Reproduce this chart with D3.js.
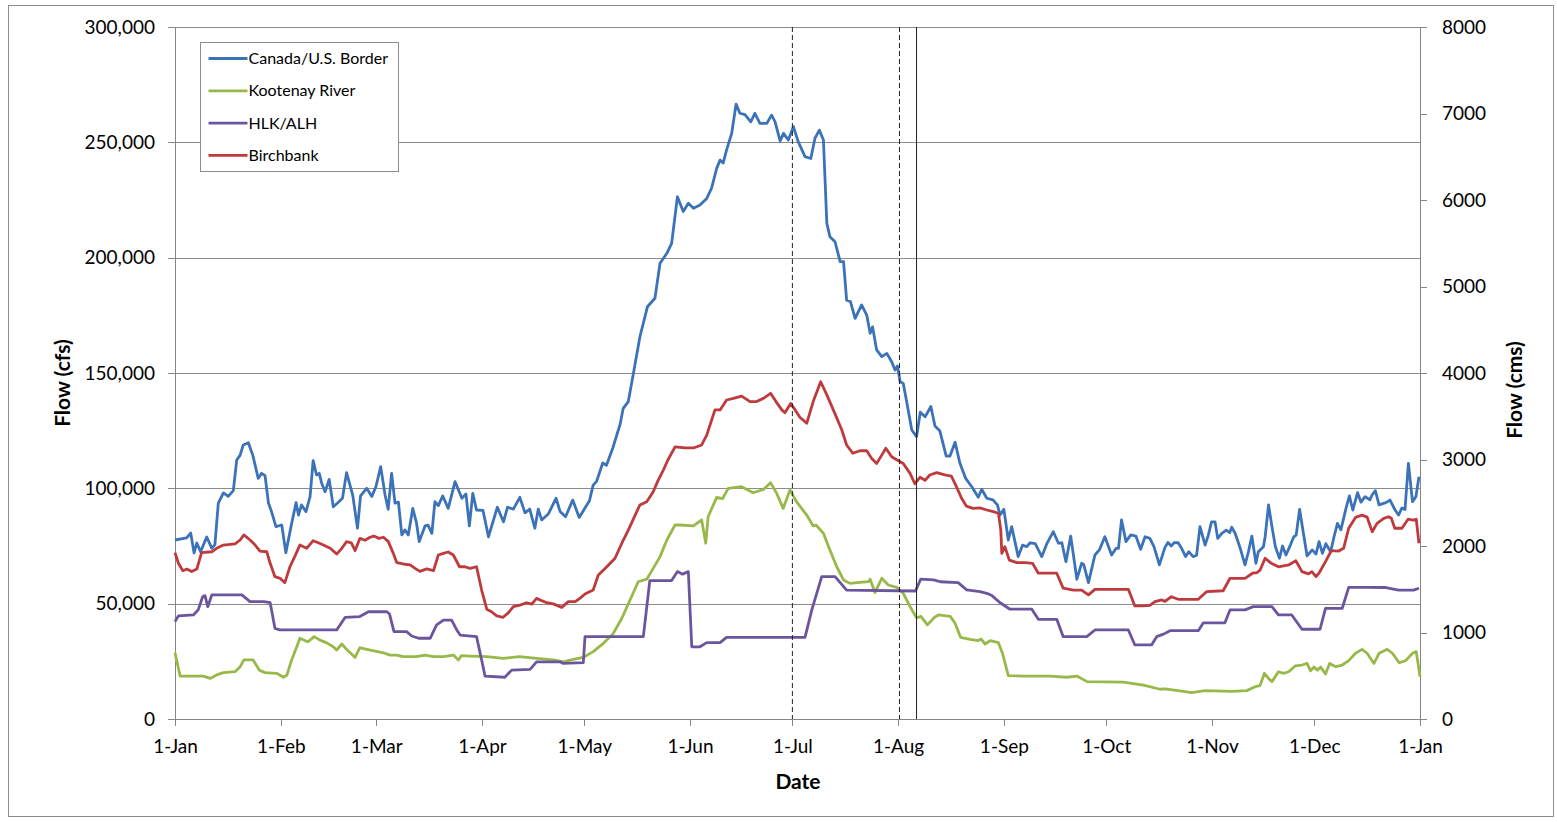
<!DOCTYPE html>
<meta charset="utf-8">
<style>

body {
  margin: 0;
  background: #fff;
  font-family: Lato, "Open Sans", sans-serif;
}

.axis path, .axis line {
  stroke: #868686;
  shape-rendering: crispEdges;
}

.axis text {
  font-family: Lato, sans-serif;
  font-size: 19px;
  fill: #000;
}

.grid line {
  stroke: #8c8c8c;
  shape-rendering: crispEdges;
}

.grid path {
  display: none;
}

.series {
  fill: none;
  stroke-width: 2.8;
  stroke-linejoin: round;
}

.title {
  font-weight: bold;
  font-size: 21px;
}

</style>
<body>
<script src="https://d3js.org/d3.v7.min.js"></script>
<script>

// daily flows, [day of year, thousand cfs]
var canada = [[0,77.6],[3.4,78.5],[4.6,80.6],[5.6,72],[6.4,76.3],[7.5,72.5],[9.3,78.9],[10.8,74],[11.7,75.6],[12.7,93.6],[14.2,98],[15.6,96.5],[17.1,99],[18.1,112.3],[19.1,114.4],[20,118.8],[21.5,119.8],[22.8,114.4],[24.4,104.3],[25.4,106.5],[26.4,105.5],[27.4,93.6],[28.3,89.9],[29.6,83.4],[31.3,84.1],[32.5,72.1],[34.2,84.8],[35.5,93.8],[36.2,88.4],[37.1,92.8],[38.4,89.9],[39.6,96.4],[40.5,112],[41.5,105.8],[42.3,106.5],[43,102.2],[44,98.5],[45.2,103.9],[46.4,92],[47.9,94],[49.1,95.7],[50.3,106.8],[52.1,97.1],[53.5,82.7],[54.4,96.7],[56.2,100],[57.7,96.5],[58.9,100.7],[60.3,109.4],[61.6,97],[62.5,90.9],[63.5,106.5],[64.5,93.6],[65.5,94],[66.5,79.8],[67.4,82],[68.4,79.8],[69.7,91.3],[70.8,85],[71.6,76.9],[73.3,83.7],[74.2,84],[75.3,80.5],[76.2,94.2],[77.2,92.5],[78.5,96.7],[80.1,91.3],[82.1,102.9],[84.1,95.7],[85.3,97.5],[86.3,83.7],[87.3,97.8],[88.4,90.6],[90.3,90.4],[91.9,79],[94.5,91.8],[96.3,85.5],[97.5,91.8],[99.2,91],[101.1,96.1],[102.6,89.4],[104,91],[105.5,82.7],[106.5,91],[107.5,86.3],[109.5,89],[111.7,95.7],[112.9,90],[114.5,87.7],[116.6,94.9],[118.5,87.4],[121.5,94.6],[122.6,101.4],[123.6,103],[125.4,111],[126.5,110],[128.4,117.7],[130.5,127.8],[131.4,134.7],[132.9,137.6],[134.4,149.9],[136.3,165.7],[138.5,178.7],[140.7,182.4],[142.2,197.6],[144.2,201.9],[145.6,206.2],[147.3,226.4],[149,220],[150.5,223.6],[152,221.4],[153.9,222.8],[155.9,225.7],[157.3,230.1],[158.8,238.7],[159.8,242.3],[160.7,241],[161.7,246.6],[163.2,253.9],[164.5,266.6],[165.6,262.6],[167.1,262],[168.8,258.9],[170,262.6],[171.5,258.2],[173.5,258.2],[174.9,261.8],[175.9,259],[177.4,250.6],[178.4,253.9],[179.8,251],[181.3,256.8],[182.7,250.3],[184.7,243.8],[186.4,243],[187.6,251.7],[188.9,255.3],[190.1,251],[191.1,214.9],[192,209.1],[193.5,206.9],[195,198.3],[196,198.3],[196.9,181.6],[198,181],[199.4,173.7],[201.3,179.5],[202.8,175.1],[203.8,167.2],[204.5,170],[205.7,160],[207.2,157.1],[208.7,158.5],[210.1,154.9],[211.1,151.3],[211.8,153],[212.6,146.2],[213.5,145.5],[214.5,137.6],[216,125.3],[217.4,122.4],[218.5,133],[219.9,131],[221.6,135.5],[222.8,127],[224.2,125],[226.1,114],[227.2,114],[228.7,120],[230.1,111],[231.8,104.3],[233.6,100.7],[235.5,96.1],[236.5,99.6],[238,95.7],[239.8,95],[241.1,92.8],[241.9,88.4],[243,90.9],[244.3,77.6],[245.3,83.4],[247.2,70.4],[248.5,75.4],[249.7,74.7],[250.7,76.4],[252.2,76],[254.1,70.4],[255.6,76],[257.5,81.2],[259,76.2],[260,76.4],[261.2,68.2],[262.6,79.3],[264.4,60.6],[265.8,67.5],[266.4,67],[267.8,59.1],[269.7,71.1],[271,73.3],[272.6,79],[274.6,71.1],[275.9,74],[276.6,74],[277.5,86.3],[278.8,76.9],[280.2,79.8],[281.7,79.3],[283.1,73.6],[284.4,79],[285.8,78.3],[287,74.7],[288.6,66.8],[290.2,74.3],[291.1,76.5],[292.1,75],[292.9,76.5],[294.1,76.4],[295.1,74],[296.3,70.4],[297.2,72.5],[298.5,70.4],[299.5,71],[300.5,83.4],[302,75.4],[302.9,79.5],[303.9,85.5],[304.9,85.5],[305.7,78.3],[306.9,80.5],[308.2,81.9],[309.2,80.8],[309.8,83.1],[310.8,80.5],[312.3,74],[313.7,66.8],[314.7,72.5],[315.7,79.3],[316.9,67.5],[317.6,72.5],[319.1,74.7],[319.6,79],[320.6,92.8],[321.6,83.4],[322.6,74.7],[323.8,69.7],[324.7,75],[325.7,71.1],[327,75.4],[328,79],[328.7,79.7],[329.7,90.9],[330.9,79.8],[331.9,70.7],[333.4,73.3],[334.5,71.5],[335.4,76.9],[336.4,71.8],[337.4,76],[338.8,72.5],[339.8,79],[340.8,84.8],[341.8,82],[343.3,91.3],[344.3,96.7],[345.3,90.6],[346.7,98.1],[347.7,94],[348.9,96.4],[350.3,95],[350.9,97],[351.9,99],[353,92.8],[355,93.8],[356.2,94.9],[357.7,90.6],[358.7,88.4],[359.7,91.5],[360.6,90.8],[361.6,110.8],[362.8,94.2],[363.8,96.4],[364.7,105]];

var kootenay = [[0,28.7],[1.5,18.6],[8.3,18.6],[10.3,17.6],[12.2,19.1],[14.2,20.1],[17.6,20.5],[19.1,22.7],[20.2,25.6],[22.9,25.6],[24.7,21.2],[26.4,20.1],[29.8,19.8],[31.8,18.1],[32.8,19],[34.2,25.6],[35.7,31.3],[36.6,35],[38.1,34],[39,33.5],[40.8,35.7],[42.5,34.2],[44.5,33],[46.4,31.3],[47.4,29.9],[48.9,32.5],[50.3,30.2],[52.8,26.7],[54.2,30.9],[56.2,30.2],[58.3,29.5],[61.1,28.7],[63,27.7],[65,27.7],[66.9,27],[70.8,27],[73.3,27.7],[75.8,27],[78.7,27],[81.6,27.7],[83.1,25.6],[84,27.5],[86.5,27.3],[91.4,27],[96.2,26.3],[101,27],[106,26.3],[110.9,25.6],[113.8,24.8],[116.8,25.9],[119.7,26.7],[122.6,29.2],[125.6,32.8],[128.5,37.1],[131,43.7],[133.4,51.6],[135.8,59.5],[138.3,60.6],[140.2,65.3],[142.2,70.4],[144.2,77.6],[146.6,84.1],[148.1,84.1],[152,83.7],[154.4,86.3],[155.6,76.2],[156.3,87.7],[158.8,96.1],[160.5,95.5],[162.2,100],[166.1,100.7],[169.5,98.1],[172.5,99.5],[174.6,102.4],[176.4,97.8],[178.3,91.3],[180.3,99.3],[182.2,94.2],[185.2,88.4],[187.1,83.7],[188,84],[190.1,80.5],[192,73.3],[194,66],[196,60.3],[197.9,58.8],[200.8,59.2],[203.3,59.6],[203.8,60.6],[205.2,54.8],[207.2,61],[209.1,58.1],[211.6,57.1],[213.5,54.5],[215.5,48.7],[217.4,43.9],[218.7,44.5],[220.6,40.8],[222.6,44],[223.8,45.1],[227.3,44.5],[228.7,41.5],[230.3,35.4],[233.1,34.5],[235.5,34],[236.3,34.7],[237.5,32.5],[239,34],[241.4,33.1],[242.6,28.5],[244.3,18.8],[248.7,18.6],[256.5,18.6],[261.4,18.1],[264.4,18.6],[267.4,16.2],[278,16],[283.9,14.7],[288.8,12.9],[290.2,13.1],[294.1,12.3],[298,11.4],[302,12.3],[309.8,12],[314.2,12.3],[316.7,14],[318.1,14.5],[319.4,19.8],[320.6,17.6],[321.6,16.2],[323.5,20.5],[325,19.8],[326.5,20.5],[328.4,23],[330.4,23.4],[331.9,24.1],[332.9,20.9],[333.9,22.5],[334.9,21.2],[335.9,22.5],[337.3,19.5],[338.5,24.1],[340.3,22.7],[342.2,23.4],[344.1,25.3],[346.1,28.5],[348,30.2],[349.5,28.5],[351.5,24.1],[353,28.5],[355.4,30.2],[356.9,28.5],[358.9,24.4],[360.8,25.3],[362.8,28.5],[363.9,29.2],[365,18.3]];

var hlk = [[0,42.2],[1,44.7],[5.4,45.1],[6.8,47.3],[8.1,53],[8.8,53.5],[9.6,48.7],[10.8,53.8],[19.6,53.8],[22,50.9],[26,50.9],[27.9,50.4],[29.3,39.3],[30.8,38.6],[47.4,38.6],[49.9,44.1],[54.2,44.4],[56.7,46.5],[62.1,46.5],[62.9,45.5],[64.2,37.9],[67.9,37.9],[69.4,36],[71.4,35],[74.8,35],[76.7,40.8],[78.7,42.9],[81.1,42.9],[82.6,38.6],[83.6,36.4],[88.4,35.7],[89.9,25.6],[90.9,18.6],[96.7,18.1],[98.7,21.2],[104.1,21.5],[106,24.8],[112.9,24.8],[113.8,24.1],[119.7,24.4],[120.2,35.7],[137.3,35.7],[139.2,60],[145.6,60],[147.3,63.9],[148.8,62.8],[150.5,63.9],[151.5,31.3],[153.9,31.3],[155.9,33.1],[159.8,33.1],[161.7,35.4],[173.5,35.4],[184.7,35.4],[186.7,47.3],[189.6,61.7],[193.5,61.7],[196.9,55.9],[217.1,55.5],[218.6,60.6],[222.4,60.3],[224.4,59.5],[229.6,59.1],[232.1,56],[236,55.2],[238,54.5],[239.5,53.5],[241.9,50.4],[244.8,47.6],[251.2,47.6],[253.1,43.2],[258.5,43.2],[260.4,35.7],[267.3,35.7],[269.7,38.6],[279.5,38.6],[281.4,32.1],[286.3,32.1],[287.8,35.7],[289.8,36.8],[291.7,38.3],[300,38.3],[301.5,41.7],[307.8,41.7],[309.3,47.3],[313.7,47.3],[316.1,48.7],[321.6,48.7],[323.5,45.1],[327.4,45.1],[330.4,38.9],[335.7,38.9],[337.3,48],[342.2,48],[344.1,57.1],[349,57.1],[355,57],[358.7,55.9],[363.1,55.9],[364.7,56.7]];

var birchbank = [[0,72.1],[1,67.5],[2.3,64.3],[3.5,65],[4.9,63.9],[6.4,65],[7.8,72.1],[10.8,72.5],[12.2,74],[14.2,75.4],[17.6,75.9],[19.1,77.6],[20.2,79.8],[22,77.6],[23.5,75.4],[24.9,72.8],[26.9,72.5],[27.9,67.5],[29.3,61.7],[30.8,61],[32.2,59.1],[33.7,66],[35.2,70.7],[36.6,75.4],[38.6,74],[40.5,77.3],[42,76.4],[43.5,75.4],[45.5,74],[47.4,71.5],[48.9,74],[50.3,76.9],[51.7,76.4],[52.8,73],[54.2,78.3],[55.7,77.5],[57.2,78.8],[58.3,79.3],[59.8,78.3],[61.1,78.8],[62.5,77],[64,71.8],[65,67.8],[66.9,67.2],[68.9,66.8],[70.4,65.3],[71.8,64],[73.8,65.1],[75.8,64.3],[77.2,71.1],[78.7,71.8],[80.1,72.4],[81.6,71.1],[83.4,66],[85,66],[86.5,65.3],[88.4,66],[89.9,55.9],[91.4,47.6],[92.8,46.5],[94.3,44.7],[96.2,44.1],[97.7,46],[99.2,48.7],[101.1,49.4],[103.1,50.4],[104.6,49.8],[106,52.3],[107.5,51.3],[109,50.4],[110.9,49.9],[113.4,48.4],[115.3,50.9],[117.3,50.9],[118.7,52.3],[120.2,54.2],[122.6,55.9],[124.1,62.4],[126.6,66],[129,69.7],[131,76.2],[132.9,81.9],[134.9,88.4],[136.3,92.8],[138.3,94.2],[140.2,98.5],[141.5,103],[143.2,108],[144.5,112.3],[146.6,118],[149.5,117.5],[152,117.5],[154.4,118.8],[155.9,123.1],[158.3,134],[159.8,134],[161.7,138.3],[163.7,139],[166.1,140],[168.6,137.6],[170.5,137.6],[172.5,139],[174.6,141.2],[176.2,137.6],[177.9,134],[178.8,132.8],[180.5,136.8],[181.8,134],[183.2,130.8],[185.2,128.2],[187.1,137.6],[189.3,146.2],[191.1,140.5],[193,134],[195.5,125.3],[196.9,118.8],[198.7,115.2],[200.8,116.3],[202.8,116.3],[204.2,113],[205.7,110.8],[207.2,114.4],[208.4,117.4],[210.1,113.7],[211.7,112.3],[213.5,110.8],[215.5,106.5],[216.9,102],[218.4,104.8],[219.9,103.5],[221.3,105.8],[223.3,106.8],[225.7,105.8],[227.6,105.3],[229.1,100.7],[230.6,95.7],[232,92.3],[234,91.3],[236,91.5],[238,90.6],[239.9,89.9],[241.4,89.2],[242.1,81.9],[242.4,71.8],[243.3,74.7],[244.6,68.9],[246.8,67.8],[249.2,67.8],[251.4,67.5],[253.1,63.2],[258.5,63.2],[260.4,56.7],[263.4,55.9],[265.8,55.9],[267.8,53.8],[269.7,56.2],[279.5,56.2],[281.4,49],[283.9,49],[285.8,49.3],[287.3,50.9],[289.3,51.6],[290.2,51],[292.1,53],[294.1,51.9],[300,51.9],[302.4,55.2],[307.3,55.6],[309.3,61],[313.7,61],[315.9,63.2],[317.2,63.5],[318.1,64.5],[319.6,69.7],[321.4,67.5],[323.5,66],[326.5,66.8],[328.6,68.6],[330.4,63.9],[332.3,62.9],[333.3,63.9],[334.5,61.7],[335.5,63.5],[337.3,68.2],[339,73],[341.2,72.8],[342.6,74],[344.1,82.7],[346.1,87.4],[348,88.4],[349.5,87.5],[351,81.2],[352.4,84.8],[354.4,87],[355.8,87.7],[356.6,87],[357.6,82.7],[359.7,82.7],[361.5,86.6],[363,86.2],[363.9,86.6],[364.7,76.2]];

var seriesNames = ["Canada/U.S. Border", "Kootenay River", "HLK/ALH", "Birchbank"];
var seriesColors = ["#3b72b8", "#98b94a", "#6c559f", "#bf3a3c"];
var seriesData = [canada, kootenay, hlk, birchbank];

var cfsTicks = [0, 50, 100, 150, 200, 250, 300];
var cmsTicks = [0, 1000, 2000, 3000, 4000, 5000, 6000, 7000, 8000];

// reference lines, day of year
var refDays = [181, 212.4, 217.4];
var refDashed = [true, true, false];

var year0 = Date.UTC(2011, 0, 1);
function toDate(day) { return new Date(year0 + day * 864e5); }

var margin = {top: 27, right: 137, bottom: 103, left: 175},
    W = 1557, H = 822,
    width = 1420 - margin.left,
    height = 719 - margin.top;

var svg = d3.select("body").append("svg")
    .attr("width", W)
    .attr("height", H);

svg.append("rect")
    .attr("x", 8.5).attr("y", 5.5)
    .attr("width", 1545).attr("height", 811)
    .attr("fill", "#fff")
    .attr("stroke", "#8c8c8c");

var g = svg.append("g")
    .attr("transform", "translate(" + margin.left + "," + margin.top + ")");

var x = d3.scaleUtc()
    .domain([toDate(0), toDate(365)])
    .range([0, width]);

var y = d3.scaleLinear()
    .domain([0, 300])
    .range([height, 0]);

var y2 = d3.scaleLinear()
    .domain([0, 8000])
    .range([height, 0]);

g.append("g")
    .attr("class", "grid")
    .call(d3.axisLeft(y).tickValues(cfsTicks.slice(1)).tickSize(-width).tickFormat(""));

g.append("g")
    .attr("class", "x axis")
    .attr("transform", "translate(0," + height + ")")
    .call(d3.axisBottom(x)
      .ticks(d3.utcMonth.every(1))
      .tickFormat(d3.utcFormat("%-d-%b"))
      .tickSize(7).tickSizeOuter(0).tickPadding(14));

g.append("g")
    .attr("class", "y axis")
    .call(d3.axisLeft(y)
      .tickValues(cfsTicks)
      .tickFormat(function(d) { return d3.format(",")(d * 1000); })
      .tickSize(7).tickSizeOuter(0).tickPadding(13));

g.append("g")
    .attr("class", "y2 axis")
    .attr("transform", "translate(" + width + ",0)")
    .call(d3.axisRight(y2)
      .tickValues(cmsTicks)
      .tickFormat(d3.format("d"))
      .tickSize(7).tickSizeOuter(0).tickPadding(15));

var line = d3.line()
    .x(function(d) { return x(toDate(d[0])); })
    .y(function(d) { return y(d[1]); });

seriesData.forEach(function(data, i) {
  g.append("path")
    .datum(data)
    .attr("class", "series")
    .attr("stroke", seriesColors[i])
    .attr("d", line);
});

refDays.forEach(function(day, i) {
  g.append("line")
    .attr("x1", x(toDate(day))).attr("x2", x(toDate(day)))
    .attr("y1", 0).attr("y2", height)
    .attr("stroke", "#222")
    .attr("stroke-width", 1)
    .attr("stroke-dasharray", refDashed[i] ? "5,3" : null);
});

// legend
var legend = svg.append("g")
    .attr("transform", "translate(200.5,42.5)");

legend.append("rect")
    .attr("width", 198).attr("height", 129)
    .attr("fill", "#fff")
    .attr("stroke", "#8c8c8c");

seriesNames.forEach(function(name, i) {
  var row = legend.append("g")
      .attr("transform", "translate(0," + (16 + i * 32.3) + ")");
  row.append("line")
    .attr("x1", 8).attr("x2", 47)
    .attr("stroke", seriesColors[i])
    .attr("stroke-width", 2.8);
  row.append("text")
    .attr("x", 48).attr("dy", "0.35em")
    .style("font-size", "16px")
    .text(name);
});

// axis titles
svg.append("text")
    .attr("class", "title")
    .attr("text-anchor", "middle")
    .attr("transform", "translate(70,383) rotate(-90)")
    .text("Flow (cfs)");

svg.append("text")
    .attr("class", "title")
    .attr("text-anchor", "middle")
    .attr("transform", "translate(1522,390) rotate(-90)")
    .text("Flow (cms)");

svg.append("text")
    .attr("class", "title")
    .attr("text-anchor", "middle")
    .attr("x", 798).attr("y", 789)
    .text("Date");

</script>
